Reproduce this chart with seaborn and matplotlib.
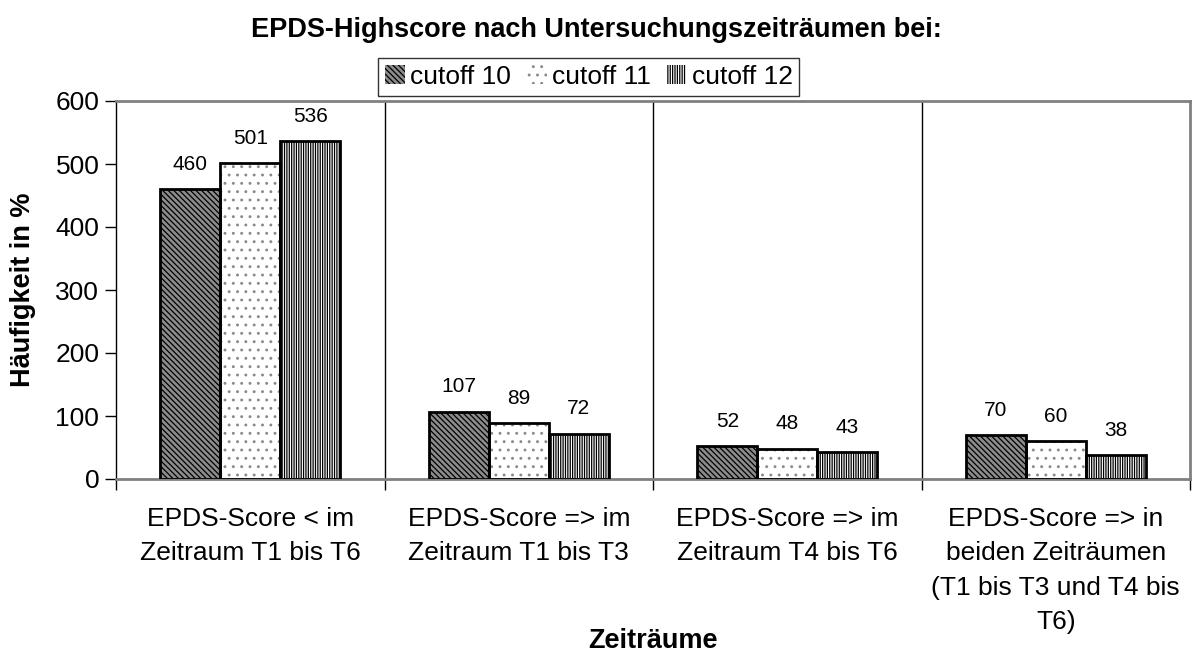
import numpy as np
import pandas as pd
import matplotlib
matplotlib.use("Agg")
import matplotlib.pyplot as plt
from matplotlib.patches import Rectangle
import seaborn as sns

# Data
categories = [
    "EPDS-Score < im\nZeitraum T1 bis T6",
    "EPDS-Score => im\nZeitraum T1 bis T3",
    "EPDS-Score => im\nZeitraum T4 bis T6",
    "EPDS-Score => in\nbeiden Zeiträumen\n(T1 bis T3 und T4 bis\nT6)",
]
series = ["cutoff 10", "cutoff 11", "cutoff 12"]
cutoff_10 = [460, 107, 52, 70]
cutoff_11 = [501, 89, 48, 60]
cutoff_12 = [536, 72, 43, 38]

df = pd.DataFrame({
    "Zeitraum": categories * 3,
    "Serie": [s for s in series for _ in categories],
    "Wert": cutoff_10 + cutoff_11 + cutoff_12,
})

sns.set_theme(style="white", rc={"text.color": "black", "axes.labelcolor": "black",
                                 "xtick.color": "black", "ytick.color": "black"})
plt.rcParams["font.family"] = ["Liberation Sans", "DejaVu Sans"]
plt.rcParams["hatch.linewidth"] = 0.9

fig = plt.figure(figsize=(11.92, 6.57), dpi=100)
ax = fig.add_axes([116 / 1192, 1 - 479 / 657, (1190 - 116) / 1192, (479 - 101) / 657])

sns.barplot(data=df, x="Zeitraum", y="Wert", hue="Serie", order=categories,
            hue_order=series, width=0.67, palette=["#9a9a9a", "white", "white"],
            edgecolor="black", linewidth=2, saturation=1, legend=False, ax=ax)

# hatch styles: (face, hatch colour, hatch)
styles = [("#8c8c8c", "black", "\\\\\\\\\\\\"), ("white", "#8a8a8a", ".."), ("white", "black", "|||||||")]
handles = []
for cont, (face, hcol, hatch) in zip(ax.containers, styles):
    for bar in cont:
        bar.set_facecolor(face)
        bar.set_edgecolor(hcol)
        bar.set_hatch(hatch)
        bar.set_linewidth(0)
        ax.add_patch(Rectangle(bar.get_xy(), bar.get_width(), bar.get_height(),
                               fill=False, edgecolor="black", linewidth=2, zorder=3))
    ax.bar_label(cont, padding=11, fontsize=15, color="black")
    handles.append(Rectangle((0, 0), 1, 1, facecolor=face, edgecolor=hcol, hatch=hatch,
                             linewidth=0))

ax.set_ylim(0, 600)
ax.set_xlim(-0.5, 3.5)
ax.set_yticks(np.arange(0, 601, 100))
ax.tick_params(axis="y", labelsize=19, direction="out", length=8, width=1, color="black",
               labelcolor="black", left=True, pad=4)
ax.tick_params(axis="x", which="major", labelsize=19, length=0, pad=20, labelcolor="black")
ax.set_xticks(np.arange(-0.5, 4, 1), minor=True)
ax.tick_params(axis="x", which="minor", direction="out", length=8, width=1, color="black",
               bottom=True)
for lbl in ax.get_xticklabels():
    lbl.set_linespacing(1.55)

ax.vlines([0.5, 1.5, 2.5], 0, 600, color="black", linewidth=1, zorder=1)

for side in ["top", "right", "bottom"]:
    ax.spines[side].set_color("#808080")
    ax.spines[side].set_linewidth(2)
ax.spines["left"].set_color("black")
ax.spines["left"].set_linewidth(1)

ax.set_xlabel("Zeiträume", fontsize=19.5, fontweight="bold", va="center")
ax.xaxis.set_label_coords(0.5, (479 - 641) / 378)
ax.set_ylabel("Häufigkeit in %", fontsize=19.5, fontweight="bold", labelpad=14)

fig.suptitle("EPDS-Highscore nach Untersuchungszeiträumen bei:", fontsize=19.5,
             fontweight="bold", x=0.5, y=1 - 30 / 657, va="center")

leg = fig.legend(handles, series, loc="center", bbox_to_anchor=(0.494, 1 - 77 / 657),
                 ncol=3, fontsize=19, frameon=True, fancybox=False, handlelength=0.75,
                 handleheight=0.75, handletextpad=0.2, columnspacing=0.6,
                 borderpad=0.25, borderaxespad=0)
leg.get_frame().set_edgecolor("black")
leg.get_frame().set_linewidth(1)

fig.savefig("out.png", dpi=100)
